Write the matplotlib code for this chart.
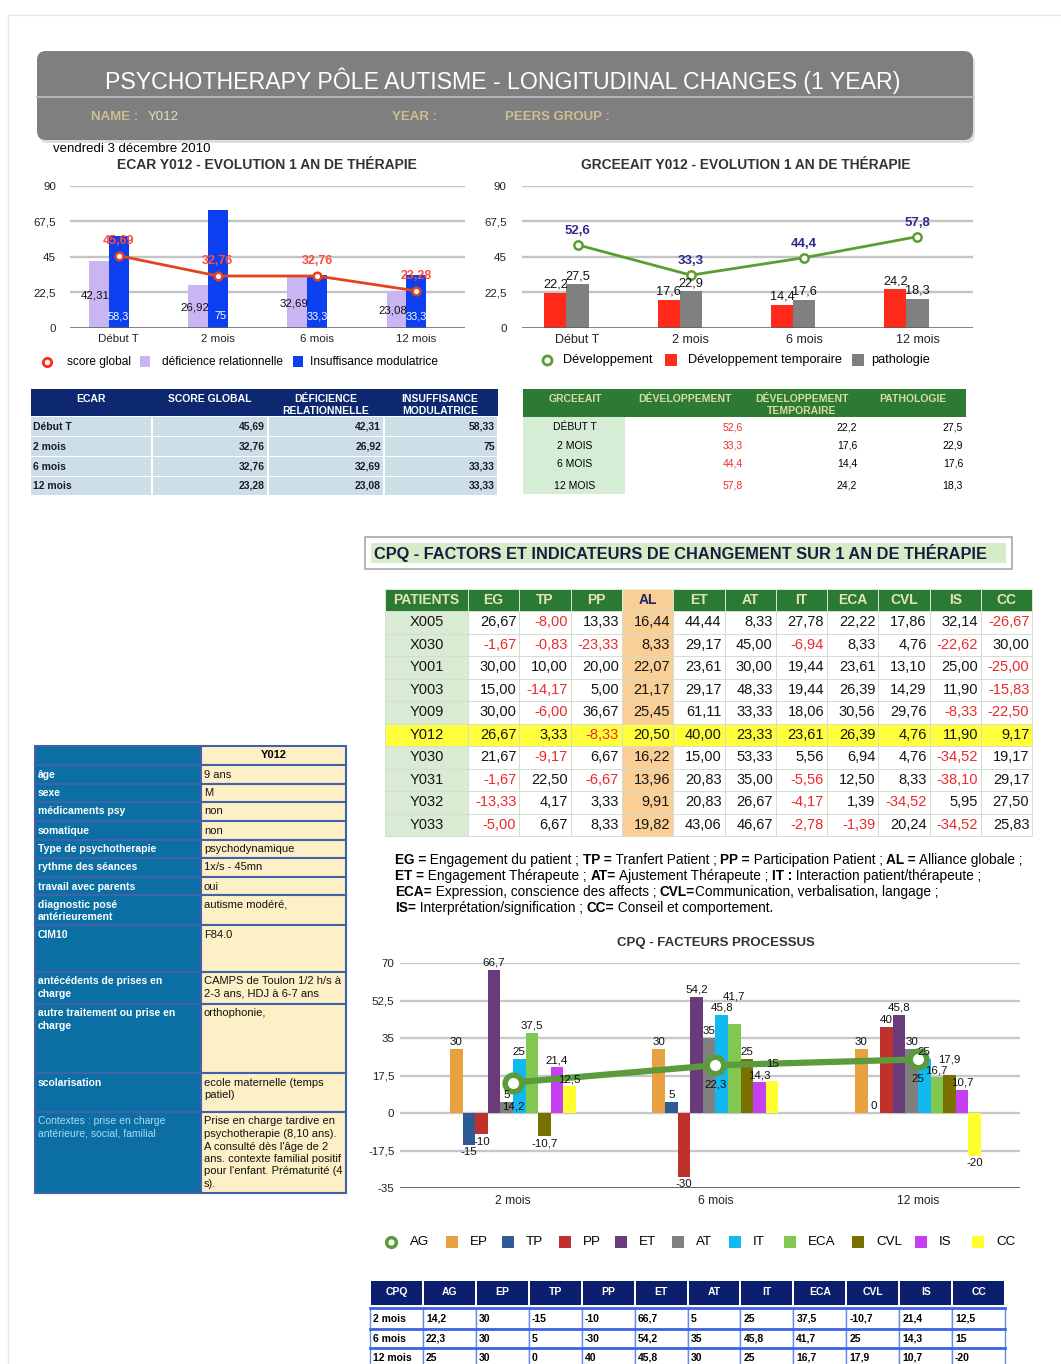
import matplotlib
matplotlib.use('Agg')
import matplotlib.pyplot as plt
from matplotlib.patches import Rectangle, FancyBboxPatch
from matplotlib import font_manager
import numpy as np

# ---------------- DATA ----------------
ecar_periods = ['Début T', '2 mois', '6 mois', '12 mois']
ecar_score_global = [45.69, 32.76, 32.76, 23.28]
ecar_deficience_relationnelle = [42.31, 26.92, 32.69, 23.08]
ecar_insuffisance_modulatrice = [58.33, 75, 33.33, 33.33]

grceeait_periods = ['Début T', '2 mois', '6 mois', '12 mois']
grceeait_table_periods = ['DÉBUT T', '2 MOIS', '6 MOIS', '12 MOIS']
grceeait_developpement = [52.6, 33.3, 44.4, 57.8]
grceeait_dev_temporaire = [22.2, 17.6, 14.4, 24.2]
grceeait_pathologie = [27.5, 22.9, 17.6, 18.3]

patient_columns = ['PATIENTS', 'EG', 'TP', 'PP', 'AL', 'ET', 'AT', 'IT', 'ECA', 'CVL', 'IS', 'CC']
patient_ids = ['X005', 'X030', 'Y001', 'Y003', 'Y009', 'Y012', 'Y030', 'Y031', 'Y032', 'Y033']
patient_EG = [26.67, -1.67, 30.00, 15.00, 30.00, 26.67, 21.67, -1.67, -13.33, -5.00]
patient_TP = [-8.00, -0.83, 10.00, -14.17, -6.00, 3.33, -9.17, 22.50, 4.17, 6.67]
patient_PP = [13.33, -23.33, 20.00, 5.00, 36.67, -8.33, 6.67, -6.67, 3.33, 8.33]
patient_AL = [16.44, 8.33, 22.07, 21.17, 25.45, 20.50, 16.22, 13.96, 9.91, 19.82]
patient_ET = [44.44, 29.17, 23.61, 29.17, 61.11, 40.00, 15.00, 20.83, 20.83, 43.06]
patient_AT = [8.33, 45.00, 30.00, 48.33, 33.33, 23.33, 53.33, 35.00, 26.67, 46.67]
patient_IT = [27.78, -6.94, 19.44, 19.44, 18.06, 23.61, 5.56, -5.56, -4.17, -2.78]
patient_ECA = [22.22, 8.33, 23.61, 26.39, 30.56, 26.39, 6.94, 12.50, 1.39, -1.39]
patient_CVL = [17.86, 4.76, 13.10, 14.29, 29.76, 4.76, 4.76, 8.33, -34.52, 20.24]
patient_IS = [32.14, -22.62, 25.00, 11.90, -8.33, 11.90, -34.52, -38.10, 5.95, -34.52]
patient_CC = [-26.67, 30.00, -25.00, -15.83, -22.50, 9.17, 19.17, 29.17, 27.50, 25.83]
highlight_patient = 'Y012'

cpq_periods = ['2 mois', '6 mois', '12 mois']
cpq_AG = [14.2, 22.3, 25]
cpq_EP = [30, 30, 30]
cpq_TP = [-15, 5, 0]
cpq_PP = [-10, -30, 40]
cpq_ET = [66.7, 54.2, 45.8]
cpq_AT = [5, 35, 30]
cpq_IT = [25, 45.8, 25]
cpq_ECA = [37.5, 41.7, 16.7]
cpq_CVL = [-10.7, 25, 17.9]
cpq_IS = [21.4, 14.3, 10.7]
cpq_CC = [12.5, 15, -20]
cpq_factor_names = ['EP', 'TP', 'PP', 'ET', 'AT', 'IT', 'ECA', 'CVL', 'IS', 'CC']
cpq_table_columns = ['CPQ', 'AG', 'EP', 'TP', 'PP', 'ET', 'AT', 'IT', 'ECA', 'CVL', 'IS', 'CC']

info_labels = ['âge', 'sexe', 'médicaments psy', 'somatique', 'Type de psychotherapie',
               'rythme des séances', 'travail avec parents', 'diagnostic posé\nantérieurement',
               'CIM10', 'antécédents de prises en\ncharge', 'autre traitement ou prise en\ncharge',
               'scolarisation', 'Contextes : prise en charge\nantérieure, social, familial']
info_values = ['9 ans', 'M', 'non', 'non', 'psychodynamique', '1x/s - 45mn', 'oui',
               'autisme modéré,', 'F84.0', 'CAMPS de Toulon 1/2 h/s à\n2-3 ans, HDJ à 6-7 ans',
               'orthophonie,', 'ecole maternelle (temps\npatiel)',
               "Prise en charge tardive en\npsychotherapie (8,10 ans).\nA consulté dès l'âge de 2\n"
               "ans. contexte familial positif\npour l'enfant. Prématurité (4\ns)."]

definition_lines = [
    [('EG =', 1), (' Engagement du patient ; ', 0), ('TP =', 1), (' Tranfert Patient ; ', 0),
     ('PP =', 1), (' Participation Patient ; ', 0), ('AL =', 1), (' Alliance globale ;', 0)],
    [('ET =', 1), (' Engagement Thérapeute ; ', 0), ('AT=', 1), (' Ajustement Thérapeute ; ', 0),
     ('IT :', 1), (' Interaction patient/thérapeute ;', 0)],
    [('ECA=', 1), (' Expression, conscience des affects ; ', 0), ('CVL=', 1),
     ('Communication, verbalisation, langage ;', 0)],
    [('IS=', 1), (' Interprétation/signification ; ', 0), ('CC=', 1), (' Conseil et comportement.', 0)],
]

# ---------------- STYLE / FONTS ----------------
names = {f.name for f in font_manager.fontManager.ttflist}
SANS = 'Liberation Sans' if 'Liberation Sans' in names else 'DejaVu Sans'
HAS_NARROW = 'Liberation Sans Narrow' in names
NARROW = 'Liberation Sans Narrow' if HAS_NARROW else SANS
NS = 1.0 if HAS_NARROW else 0.92
plt.rcParams['font.family'] = [SANS, 'DejaVu Sans']
FS = [SANS, 'DejaVu Sans']
FN = [NARROW, 'DejaVu Sans']

W, H = 1061, 1364
fig = plt.figure(figsize=(W / 100, H / 100), dpi=100)
fig.patch.set_facecolor('white')
ov = fig.add_axes([0, 0, 1, 1], zorder=0)
ov.set_xlim(0, W)
ov.set_ylim(H, 0)
ov.axis('off')
renderer = fig.canvas.get_renderer()


def fmt(v):
    return f'{v:g}'.replace('.', ',')


def fmt2(v):
    return f'{v:.2f}'.replace('.', ',')


def T(x, y, s, fs=8, color='black', ha='left', va='center', weight='normal', family=None, z=5, **kw):
    return ov.text(x, y, s, fontsize=fs, color=color, ha=ha, va=va, weight=weight,
                   family=family or FS, zorder=z, **kw)


def rect(x0, y0, x1, y1, fc, ec='none', lw=0, z=1):
    ov.add_patch(Rectangle((x0, y0), x1 - x0, y1 - y0, facecolor=fc, edgecolor=ec, linewidth=lw, zorder=z))


def twidth(s, fs, weight='normal', family=None):
    t = ov.text(0, 0, '|' + s + '|', fontsize=fs, weight=weight, family=family or FS)
    w1 = t.get_window_extent(renderer).width
    t.set_text('||')
    w2 = t.get_window_extent(renderer).width
    t.remove()
    return w1 - w2


def fit_fs(s, target, fs0=10, weight='normal', family=None):
    return fs0 * target / twidth(s, fs0, weight, family)


def px_axes(x0, y0, x1, y1):
    ax = fig.add_axes([x0 / W, 1 - y1 / H, (x1 - x0) / W, (y1 - y0) / H], zorder=2)
    ax.patch.set_alpha(0)
    for sp in ax.spines.values():
        sp.set_visible(False)
    return ax


# ---------------- PAGE + HEADER ----------------
ov.plot([8, W], [15, 15], color='#e6e6e6', lw=1)
ov.plot([8, 8], [15, H], color='#e6e6e6', lw=1)
ov.add_patch(FancyBboxPatch((39, 54), 936, 89, boxstyle='round,pad=0,rounding_size=9',
                            fc='#c8c8c8', ec='none', alpha=0.6, zorder=1))
ov.add_patch(FancyBboxPatch((37, 51), 936, 89, boxstyle='round,pad=0,rounding_size=9',
                            fc='#7f7f7f', ec='none', zorder=2))
ov.plot([37, 973], [97, 97], color='#b9b9b9', lw=1.3, zorder=3)
title = 'PSYCHOTHERAPY PÔLE AUTISME - LONGITUDINAL CHANGES (1 YEAR)'
T(503, 81, title, fs=fit_fs(title, 800, 15, family=FN), color='white', ha='center', family=FN)
T(91, 117, 'NAME :', fs=9.5, weight='bold', color='#cdbf8e')
T(148, 117, 'Y012', fs=9.5, color='#e8dfc4')
T(392, 117, 'YEAR :', fs=9.5, weight='bold', color='#cdbf8e')
T(505, 117, 'PEERS GROUP :', fs=9.5, weight='bold', color='#cdbf8e')
T(53, 149, 'vendredi 3 décembre 2010', fs=9.5)

# ---------------- CHART 1 : ECAR ----------------
c_lav, c_blue, c_red1 = '#c9b5f2', '#0b3ff0', '#e2451c'
t1 = 'ECAR Y012 - EVOLUTION 1 AN DE THÉRAPIE'
T(267, 165, t1, fs=fit_fs(t1, 298, 8.5, 'bold'), weight='bold', color='#333333', ha='center')
ax1 = px_axes(70, 186, 465, 327.5)
x4 = np.arange(len(ecar_periods))
ax1.set_xlim(-0.49, 3.49)
ax1.set_ylim(0, 90)
yt = [0, 22.5, 45, 67.5, 90]
for v in yt[1:]:
    ax1.axhline(v, color='#c4c4c4', lw=1.7, zorder=0)
ax1.axhline(0, color='#5c5c5c', lw=1.8, zorder=3)
ax1.bar(x4 - 0.2, ecar_deficience_relationnelle, width=0.2, color=c_lav, zorder=2)
ax1.bar(x4, ecar_insuffisance_modulatrice, width=0.2, color=c_blue, zorder=2)
ax1.plot(x4, ecar_score_global, color=c_red1, lw=2, marker='o', ms=5.5, mfc='white',
         mec=c_red1, mew=1.8, zorder=4)
for i in x4:
    d = ecar_deficience_relationnelle[i]
    ax1.text(i - 0.235, d / 2 - 1, fmt(d), ha='center', va='center', fontsize=9 * NS, family=FN,
             color='#111111', zorder=5)
    ax1.text(i + 0.03, 7, fmt(ecar_insuffisance_modulatrice[i]), ha='center', va='center',
             fontsize=8.5 * NS, family=FN, color='white', zorder=5)
    ax1.annotate(fmt(ecar_score_global[i]), (i, ecar_score_global[i]), xytext=(0, 10.5),
                 textcoords='offset points', ha='center', va='center', color='#ff4b3a',
                 weight='bold', fontsize=9, zorder=6)
ax1.set_yticks(yt)
ax1.set_yticklabels([fmt(v) for v in yt], fontsize=9 * NS, family=FN, color='#222222')
ax1.set_xticks(x4)
ax1.set_xticklabels(ecar_periods, fontsize=9 * NS, family=FN, color='#222222')
ax1.tick_params(axis='y', length=0, pad=10)
ax1.tick_params(axis='x', length=0, pad=5)
# legend
ov.plot([47], [362], marker='o', ms=6, mfc='white', mec='#ff2a1a', mew=2, zorder=5)
T(67, 362, 'score global', fs=9.3 * NS, family=FN)
rect(140, 356, 150, 367, c_lav)
T(162, 362, 'déficience relationnelle', fs=9.3 * NS, family=FN)
rect(293, 356, 303, 367, c_blue)
T(310, 362, 'Insuffisance modulatrice', fs=9.3 * NS, family=FN)

# ---------------- CHART 2 : GRCEEAIT ----------------
c_red2, c_gray2, c_green2 = '#ff2a1a', '#808080', '#5a9e32'
t2 = 'GRCEEAIT Y012 - EVOLUTION 1 AN DE THÉRAPIE'
T(746, 165, t2, fs=fit_fs(t2, 328, 8.5, 'bold'), weight='bold', color='#333333', ha='center')
ax2 = px_axes(522, 186, 973, 327.5)
ax2.set_xlim(-0.49, 3.49)
ax2.set_ylim(0, 90)
for v in yt[1:]:
    ax2.axhline(v, color='#c4c4c4', lw=1.7, zorder=0)
ax2.axhline(0, color='#5c5c5c', lw=1.8, zorder=3)
ax2.bar(x4 - 0.195, grceeait_dev_temporaire, width=0.195, color=c_red2, zorder=2)
ax2.bar(x4, grceeait_pathologie, width=0.195, color=c_gray2, zorder=2)
ax2.plot(x4, grceeait_developpement, color=c_green2, lw=2, marker='o', ms=6, mfc='white',
         mec=c_green2, mew=1.8, zorder=4)
for i in x4:
    ax2.annotate(fmt(grceeait_dev_temporaire[i]), (i - 0.195, grceeait_dev_temporaire[i]),
                 xytext=(0, 1.5), textcoords='offset points', ha='center', va='bottom',
                 fontsize=9.2, color='#111111', zorder=5)
    ax2.annotate(fmt(grceeait_pathologie[i]), (i, grceeait_pathologie[i]),
                 xytext=(0, 1.5), textcoords='offset points', ha='center', va='bottom',
                 fontsize=9.2, color='#111111', zorder=5)
    ax2.annotate(fmt(grceeait_developpement[i]), (i, grceeait_developpement[i]), xytext=(0, 10),
                 textcoords='offset points', ha='center', va='center', color='#2e2a8e',
                 weight='bold', fontsize=9.5, zorder=6)
ax2.set_yticks(yt)
ax2.set_yticklabels([fmt(v) for v in yt], fontsize=9 * NS, family=FN, color='#222222')
ax2.set_xticks(x4)
ax2.set_xticklabels(grceeait_periods, fontsize=9, color='#222222')
ax2.tick_params(axis='y', length=0, pad=11)
ax2.tick_params(axis='x', length=0, pad=5)
ov.plot([547], [360], marker='o', ms=6.5, mfc='white', mec=c_green2, mew=2, zorder=5)
T(563, 360, 'Développement', fs=9.2)
rect(665, 354, 677, 366, c_red2)
T(688, 360, 'Développement temporaire', fs=9.2)
rect(852, 354, 864, 366, c_gray2)
T(871, 360, 'pathologie', fs=9.2)

# ---------------- ECAR TABLE ----------------
navy = '#0d2870'
ex = [31, 152, 268, 384, 498]
rect(ex[0], 389, ex[-1], 416, navy)
T(91, 399, 'ECAR', fs=7.5, weight='bold', color='white', ha='center')
T(210, 399, 'SCORE GLOBAL', fs=7.5, weight='bold', color='white', ha='center')
T(326, 399, 'DÉFICIENCE', fs=7.5, weight='bold', color='white', ha='center')
T(326, 410.5, 'RELATIONNELLE', fs=7.5, weight='bold', color='white', ha='center')
T(440, 399, 'INSUFFISANCE', fs=7.5, weight='bold', color='white', ha='center')
T(440, 410.5, 'MODULATRICE', fs=7.5, weight='bold', color='white', ha='center')
ecar_rows_y = [(417, 436), (437, 456), (457, 476), (477, 495)]
for r, (y0, y1) in enumerate(ecar_rows_y):
    for c in range(4):
        rect(ex[c] + (0 if c == 0 else 1), y0, ex[c + 1] - 1, y1, '#cddfe6')
    yc = (y0 + y1) / 2
    T(33, yc, ecar_periods[r], fs=7.5, weight='bold', color='#1a1a2a')
    vals = [ecar_score_global[r], ecar_deficience_relationnelle[r], ecar_insuffisance_modulatrice[r]]
    for c, v in enumerate(vals):
        T(ex[c + 2] - 3, yc, fmt(v), fs=7.5, weight='bold', color='#1a1a2a', ha='right')

# ---------------- GRCEEAIT TABLE ----------------
gx0, gx1 = 523, 966
rect(gx0, 389, gx1, 417, '#2d7a33')
hc = '#d9dca6'
T(575, 399, 'GRCEEAIT', fs=7.5, weight='bold', color=hc, ha='center')
T(685, 399, 'DÉVELOPPEMENT', fs=7.5, weight='bold', color=hc, ha='center')
T(802, 399, 'DÉVELOPPEMENT', fs=7.5, weight='bold', color=hc, ha='center')
T(802, 410.5, 'TEMPORAIRE', fs=7.5, weight='bold', color=hc, ha='center')
T(913, 399, 'PATHOLOGIE', fs=7.5, weight='bold', color=hc, ha='center')
rect(gx0, 417, 625, 494, '#d5ecd5')
grc_y = [427, 446, 464, 486]
for r in range(4):
    T(575, grc_y[r], grceeait_table_periods[r], fs=7.5, ha='center')
    T(743, grc_y[r], fmt(grceeait_developpement[r]), fs=7.5, ha='right', color='#e83030')
    T(857, grc_y[r], fmt(grceeait_dev_temporaire[r]), fs=7.5, ha='right')
    T(963, grc_y[r], fmt(grceeait_pathologie[r]), fs=7.5, ha='right')

# ---------------- CPQ FACTORS HEADER ----------------
rect(365, 537, 1012, 569, 'white', ec='#a8a8a8', lw=1.2)
rect(371, 543, 1006, 563, '#d6ecc6')
t3 = 'CPQ - FACTORS ET INDICATEURS DE CHANGEMENT SUR 1 AN DE THÉRAPIE'
T(374, 553, t3, fs=fit_fs(t3, 612, 11, 'bold'), weight='bold', color='#1b1b45')

# ---------------- PATIENTS TABLE ----------------
pcols = [patient_EG, patient_TP, patient_PP, patient_AL, patient_ET, patient_AT,
         patient_IT, patient_ECA, patient_CVL, patient_IS, patient_CC]
px = [385] + [468 + 51.3 * k for k in range(12)]
ph0, ph1 = 589, 611
rh = 22.5
for c in range(12):
    fc = '#f9cf96' if patient_columns[c] == 'AL' else '#2b7a34'
    rect(px[c], ph0, px[c + 1], ph1, fc, ec='#e8f0e0', lw=0.6)
    col = '#1c2566' if patient_columns[c] == 'AL' else '#e3e6b4'
    T((px[c] + px[c + 1]) / 2, (ph0 + ph1) / 2 + 0.5, patient_columns[c], fs=10, weight='bold',
      color=col, ha='center')
for r, pid in enumerate(patient_ids):
    y0 = ph1 + rh * r
    yc = y0 + rh / 2
    for c in range(12):
        fc = 'white'
        if c == 0:
            fc = '#d9ebd3'
        if patient_columns[c] == 'AL':
            fc = '#f9cf96'
        if pid == highlight_patient:
            fc = '#ffff3d'
        rect(px[c], y0, px[c + 1], y0 + rh, fc, ec='#d3dece', lw=0.7)
    T((px[0] + px[1]) / 2, yc, pid, fs=10.5, ha='center', color='#151515')
    for c in range(11):
        v = pcols[c][r]
        T(px[c + 2] - 3, yc, fmt2(v), fs=10.5, ha='right',
          color='#ea2a2a' if v < 0 else '#151515')

# ---------------- DEFINITIONS ----------------
def_fs = 10 * NS
w_now = sum(twidth(s, def_fs, 'bold' if b else 'normal', FN) for s, b in definition_lines[0])
def_fs = def_fs * 627 / w_now
for j, segs in enumerate(definition_lines):
    xx = 395
    yy = 860 + 16 * j
    for s, b in segs:
        wt = 'bold' if b else 'normal'
        T(xx, yy, s, fs=def_fs, weight=wt, family=FN)
        xx += twidth(s, def_fs, wt, FN)

# ---------------- INFO TABLE ----------------
iy = [746, 765, 783.5, 802, 821, 839.5, 858, 877, 895, 925, 972, 1004, 1073, 1112, 1193]
ix0, ixm, ix1 = 35, 201, 346
bc = '#4062a8'
rect(ix0, iy[0], ixm, iy[1], '#0b6fa4', ec=bc, lw=1.5)
rect(ixm, iy[0], ix1, iy[1], '#fdf0c6', ec=bc, lw=1.5)
T((ixm + ix1) / 2, (iy[0] + iy[1]) / 2, 'Y012', fs=8, weight='bold', ha='center')
for k in range(len(info_labels)):
    y0, y1 = iy[k + 1], iy[k + 2]
    rect(ix0, y0, ixm, y1, '#0b6fa4', ec=bc, lw=1.5)
    rect(ixm, y0, ix1, y1, '#fdf0c6', ec=bc, lw=1.5)
    last = (k == len(info_labels) - 1)
    for j, ln in enumerate(info_labels[k].split('\n')):
        T(38, y0 + 9.5 + 12.5 * j, ln, fs=7.5, weight='normal' if last else 'bold',
          color='#a6dcf5' if last else 'white')
    for j, ln in enumerate(info_values[k].split('\n')):
        T(204, y0 + 9.5 + 12.5 * j, ln, fs=8, color='#111111')

# ---------------- CPQ CHART ----------------
cpq_colors = ['#e8a040', '#2e5a95', '#c0302c', '#6b3a7a', '#808080', '#12b8f0',
              '#82c850', '#7a7000', '#c63ff0', '#ffff30']
c_ag = '#5b9b3c'
t4 = 'CPQ - FACTEURS PROCESSUS'
T(716, 943, t4, fs=fit_fs(t4, 198, 8.5, 'bold'), weight='bold', color='#333333', ha='center')
ax3 = px_axes(400, 963, 1020, 1188)
x3 = np.arange(len(cpq_periods))
ax3.set_xlim(-0.558, 2.504)
ax3.set_ylim(-35, 70)
yt3 = [-35, -17.5, 0, 17.5, 35, 52.5, 70]
for v in yt3[1:]:
    ax3.axhline(v, color='#c8c8c8', lw=1.7, zorder=0)
ax3.axhline(-35, color='#555555', lw=2, zorder=3)
series = [cpq_EP, cpq_TP, cpq_PP, cpq_ET, cpq_AT, cpq_IT, cpq_ECA, cpq_CVL, cpq_IS, cpq_CC]
bw = 0.0622
lab_fs = 9.0 * NS
bar_labels = []
for k, (vals, col) in enumerate(zip(series, cpq_colors)):
    xp = x3 + (k - 4.5) * bw
    ax3.bar(xp, vals, width=bw, color=col, zorder=2)
    for g, (xi, v) in enumerate(zip(xp, vals)):
        a = ax3.annotate(fmt(v), (xi, v), xytext=(0, 1.5 if v >= 0 else -1.5), textcoords='offset points',
                         ha='center', va='bottom' if v >= 0 else 'top', fontsize=lab_fs, family=FN,
                         color='#111111', zorder=6)
        bar_labels.append((g, k, v, a))
ax3.plot(x3, cpq_AG, color=c_ag, lw=4.5, marker='o', ms=12, mfc='white', mec=c_ag, mew=4, zorder=5)
ag_labels = []
for xi, v in zip(x3, cpq_AG):
    a = ax3.annotate(fmt(v), (xi, v), xytext=(0, -14), textcoords='offset points', ha='center',
                     va='center', fontsize=lab_fs, family=FN, color='#111111', zorder=6)
    ag_labels.append(a)

# small nudges so that crowded value labels do not sit on top of each other
placed = []
for g, k, v, a in sorted(bar_labels, key=lambda t: (t[0], t[1])):
    for _ in range(12):
        bb = a.get_window_extent(renderer)
        hits = [p for p in placed if bb.overlaps(p)]
        if not hits:
            break
        dx, dy = a.xyann
        if v >= 0:
            shift = max(p.y1 - bb.y0 for p in hits) + 1
            a.xyann = (dx, dy + shift * 0.72)
        else:
            shift = max(bb.y1 - p.y0 for p in hits) + 1
            a.xyann = (dx, dy - shift * 0.72)
    placed.append(a.get_window_extent(renderer))
for a in ag_labels:
    for _ in range(12):
        bb = a.get_window_extent(renderer)
        hits = [p for p in placed if bb.overlaps(p)]
        if not hits:
            break
        dx, dy = a.xyann
        shift = max(bb.y1 - p.y0 for p in hits) + 1
        a.xyann = (dx, dy - shift * 0.72)
    placed.append(a.get_window_extent(renderer))

ax3.set_yticks(yt3)
ax3.set_yticklabels([fmt(v) for v in yt3], fontsize=9 * NS, family=FN, color='#222222')
ax3.set_xticks(x3)
ax3.set_xticklabels(cpq_periods, fontsize=9.5 * NS, family=FN, color='#222222')
ax3.tick_params(axis='y', length=0, pad=4)
ax3.tick_params(axis='x', length=0, pad=5)
# legend
lx = [391, 452, 508, 565, 621, 678, 735, 790, 858, 921, 978]
ly = 1242
ov.plot([lx[0]], [ly], marker='o', ms=7, mfc='white', mec=c_ag, mew=2.5, zorder=5)
T(lx[0] + 19, ly, 'AG', fs=10.5 * NS, family=FN)
for k, nm in enumerate(cpq_factor_names):
    cx = lx[k + 1]
    rect(cx - 6, ly - 6, cx + 6, ly + 6, cpq_colors[k])
    T(cx + 18, ly, nm, fs=10.5 * NS, family=FN)

# ---------------- CPQ TABLE ----------------
tx = [370 + 52.92 * k for k in range(13)]
for c in range(12):
    rect(tx[c] + 1, 1281, tx[c + 1] - 1, 1305, '#0c1f6e')
    T((tx[c] + tx[c + 1]) / 2, 1292, cpq_table_columns[c], fs=7.5, weight='bold', color='white',
      ha='center')
cpq_row_vals = [cpq_AG, cpq_EP, cpq_TP, cpq_PP, cpq_ET, cpq_AT, cpq_IT, cpq_ECA, cpq_CVL, cpq_IS, cpq_CC]
trow = [(1308, 1329), (1329, 1348), (1348, 1368)]
for r, (y0, y1) in enumerate(trow):
    for c in range(12):
        rect(tx[c], y0, tx[c + 1], y1, 'white', ec='#6a88f0', lw=1)
    ov.plot([tx[0], tx[-1]], [y0, y0], color='#3f63e6', lw=2, zorder=3)
    yc = (y0 + y1) / 2
    T(tx[0] + 3, yc, cpq_periods[r], fs=7.5, weight='bold')
    for c in range(11):
        T(tx[c + 1] + 3, yc, fmt(cpq_row_vals[c][r]), fs=7.5, weight='bold')

fig.savefig('out.png', dpi=100, facecolor='white')
